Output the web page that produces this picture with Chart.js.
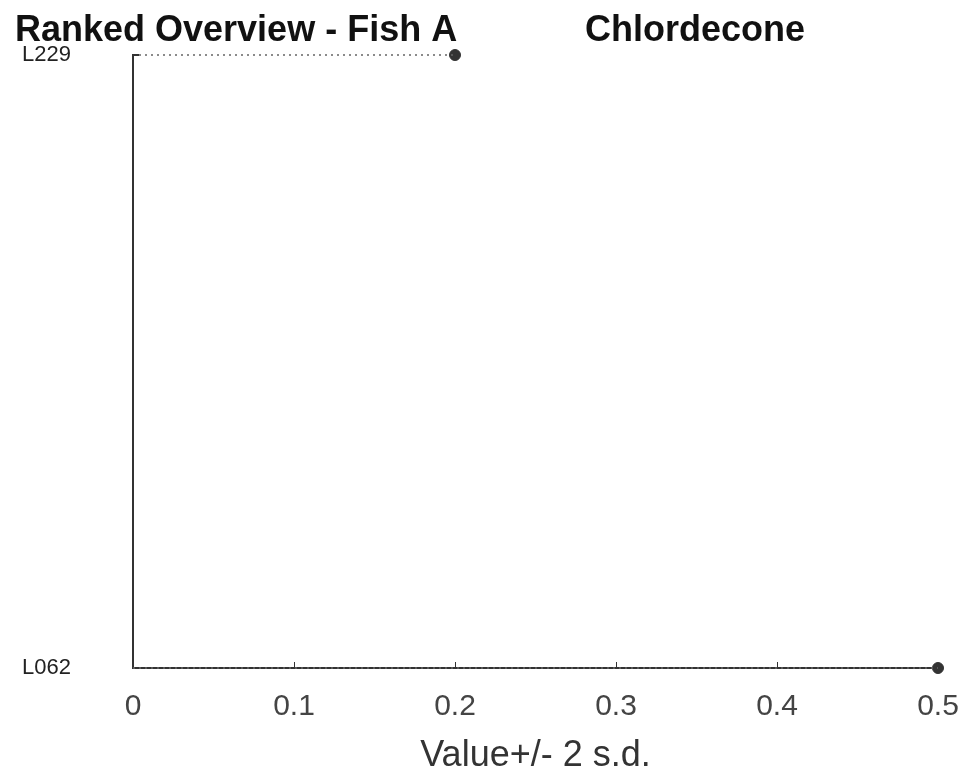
<!DOCTYPE html>
<html>
<head>
<meta charset="utf-8">
<script src="https://cdn.jsdelivr.net/npm/chart.js@4/dist/chart.umd.min.js"></script>
<style>
  html, body { margin: 0; padding: 0; background: #fff; }
  #wrap { width: 969px; height: 778px; position: relative; }
</style>
</head>
<body>
<div id="wrap"><canvas id="rankChart"></canvas></div>
<script>
// ranked labs, top to bottom
const labs = ["L229", "L062"];
const labValues = [0.2, 0.5];
const xTickValues = [0, 0.1, 0.2, 0.3, 0.4, 0.5];
const mainTitle = "Ranked Overview - Fish A";
const analyteTitle = "Chlordecone";
const xTitle = "Value+/- 2 s.d.";

const FONT = "'Liberation Sans', Arial, Helvetica, sans-serif";

// dotted lines from 0 out to each value
const lineSets = labs.map((lab, i) => ({
  type: "line",
  data: [{ x: 0, y: lab }, { x: labValues[i], y: lab }],
  borderColor: "#666",
  borderWidth: 1.5,
  borderDash: [2, 4],
  pointRadius: 0,
  clip: false
}));

const pointSet = {
  type: "scatter",
  data: labs.map((lab, i) => ({ x: labValues[i], y: lab })),
  backgroundColor: "#333",
  borderColor: "#333",
  pointRadius: 5.5,
  clip: false
};

// titles and the small inward ticks
const decor = {
  id: "decor",
  afterDraw(chart) {
    const ctx = chart.ctx;
    const xs = chart.scales.x, ys = chart.scales.y;
    const area = chart.chartArea;
    ctx.save();
    ctx.fillStyle = "#111";
    ctx.font = "bold 36px " + FONT;
    ctx.textBaseline = "alphabetic";
    ctx.textAlign = "left";
    ctx.fillText(mainTitle, 15, 41);
    ctx.fillText(analyteTitle, 585, 41);

    ctx.strokeStyle = "#333";
    ctx.lineWidth = 1;
    xTickValues.slice(1, -1).forEach(v => {
      const px = Math.round(xs.getPixelForValue(v)) + 0.5;
      ctx.beginPath();
      ctx.moveTo(px, area.bottom);
      ctx.lineTo(px, area.bottom - 6);
      ctx.stroke();
    });
    const py = ys.getPixelForValue(0);
    ctx.lineWidth = 2;
    ctx.beginPath();
    ctx.moveTo(area.left, py);
    ctx.lineTo(area.left + 6, py);
    ctx.stroke();
    ctx.restore();
  }
};

new Chart(document.getElementById("rankChart"), {
  data: {
    datasets: [...lineSets, pointSet]
  },
  options: {
    responsive: true,
    maintainAspectRatio: false,
    animation: false,
    layout: { padding: { top: 55, left: 22, right: 31, bottom: 0 } },
    plugins: {
      legend: { display: false },
      tooltip: { enabled: false }
    },
    scales: {
      x: {
        type: "linear",
        min: 0,
        max: 0.5,
        afterBuildTicks: s => { s.ticks = xTickValues.map(v => ({ value: v })); },
        afterFit: s => { s.height = 110; s.paddingLeft = 0; s.paddingRight = 0; },
        grid: { display: false, drawTicks: false },
        border: { color: "#333", width: 2 },
        ticks: {
          padding: 21,
          color: "#444",
          font: { family: FONT, size: 30 },
          maxRotation: 0
        },
        title: {
          display: true,
          text: xTitle,
          color: "#333",
          font: { family: FONT, size: 36 },
          padding: { top: 0, bottom: 0 }
        }
      },
      y: {
        type: "category",
        labels: labs,
        offset: false,
        afterFit: s => { s.width = 111; s.paddingTop = 0; s.paddingBottom = 0; },
        grid: { display: false, drawTicks: false },
        border: { color: "#333", width: 2 },
        ticks: {
          crossAlign: "far",
          color: "#222",
          font: { family: FONT, size: 22 },
          padding: 0
        }
      }
    }
  },
  plugins: [decor]
});
</script>
</body>
</html>
